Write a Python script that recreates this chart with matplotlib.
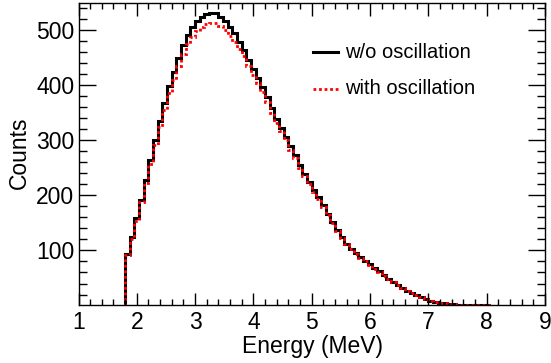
import numpy as np
import matplotlib
matplotlib.use("Agg")
import matplotlib.pyplot as plt
from matplotlib.ticker import MultipleLocator, FixedLocator

plt.rcParams['font.family'] = ['Liberation Sans', 'DejaVu Sans']

# histogram binning: 0.08 MeV bins starting at the 1.8 MeV threshold
bin_start = 1.8
bin_width = 0.08

# counts, one per bin
no_osc = [93, 124, 158, 192, 228, 265, 301, 335, 367, 398,
          424, 449, 473, 491, 505, 516, 524, 529, 531, 531,
          524, 517, 505, 494, 479, 464, 445, 430, 413, 396,
          379, 358, 339, 323, 306, 289, 273, 255, 239, 224,
          209, 197, 182, 167, 151, 138, 125, 112, 103, 95,
          88, 81, 75, 68, 62, 55, 49, 43, 37, 32,
          27, 23, 19, 15, 12, 9, 7, 5.5, 4, 3,
          2.2, 1.6, 1.1, 0.8, 0.5, 0.3, 0.2, 0.1]

with_osc = [92, 121, 154, 187, 222, 257, 292, 324, 355, 385,
            410, 434, 457, 474, 488, 498, 506, 511, 513, 513,
            507, 500, 490, 479, 466, 452, 434, 419, 403, 387,
            370, 350, 332, 316, 300, 283, 268, 250, 235, 220,
            206, 194, 179, 164, 149, 136, 123, 111, 102, 94,
            87, 80, 74, 67, 61, 54, 48, 42, 36.5, 31.5,
            26.7, 22.8, 18.8, 14.9, 11.9, 8.9, 6.9, 5.4, 4, 3,
            2.2, 1.6, 1.1, 0.8, 0.5, 0.3, 0.2, 0.1]

labels = ['w/o oscillation', 'with oscillation']

edges = bin_start + bin_width * np.arange(len(no_osc) + 1)

W, H = 551, 363
fig = plt.figure(figsize=(W / 100, H / 100), dpi=100)
ax = fig.add_axes([78.5 / W, 58 / H, 466.5 / W, 302 / H])

ax.stairs(no_osc, edges, baseline=0, color='black', lw=2.2)
ax.stairs(with_osc, edges, baseline=0, color='red', lw=2.0, linestyle=(0, (1, 1)))

ax.set_xlim(1, 9)
ax.set_ylim(1, 549)

ax.xaxis.set_major_locator(MultipleLocator(1))
ax.xaxis.set_minor_locator(MultipleLocator(0.2))
ax.yaxis.set_major_locator(FixedLocator([100, 200, 300, 400, 500]))
ax.yaxis.set_minor_locator(MultipleLocator(20))

ax.tick_params(which='both', direction='in', top=True, right=True,
               labelsize=16.5, width=1, color='black')
ax.tick_params(axis='y', which='major', length=12, pad=3)
ax.tick_params(axis='y', which='minor', length=6)
ax.tick_params(axis='x', which='major', length=9, pad=4)
ax.tick_params(axis='x', which='minor', length=4.5)

for sp in ax.spines.values():
    sp.set_linewidth(1)

fig.text(313 / W, 1 - 346 / H, 'Energy (MeV)', ha='center', va='center', fontsize=16.5)
fig.text(19 / W, 1 - 153 / H, 'Counts', rotation=90, ha='center', va='center', fontsize=16.5)

# legend drawn by hand, in axes fractions
def px_x(p):
    return (p - 78.5) / 466.5

def px_y(p):
    return (305 - p) / 302

ax.plot([px_x(313), px_x(338)], [px_y(52), px_y(52)], color='black', lw=2.2,
        transform=ax.transAxes)
ax.plot([px_x(313), px_x(338)], [px_y(89), px_y(89)], color='red', lw=2.0,
        linestyle=(0, (1, 1)), transform=ax.transAxes)
ax.text(px_x(345), px_y(52), labels[0], transform=ax.transAxes,
        ha='left', va='center', fontsize=14.5)
ax.text(px_x(345), px_y(89), labels[1], transform=ax.transAxes,
        ha='left', va='center', fontsize=14.5)

fig.savefig('out.png', dpi=100)
